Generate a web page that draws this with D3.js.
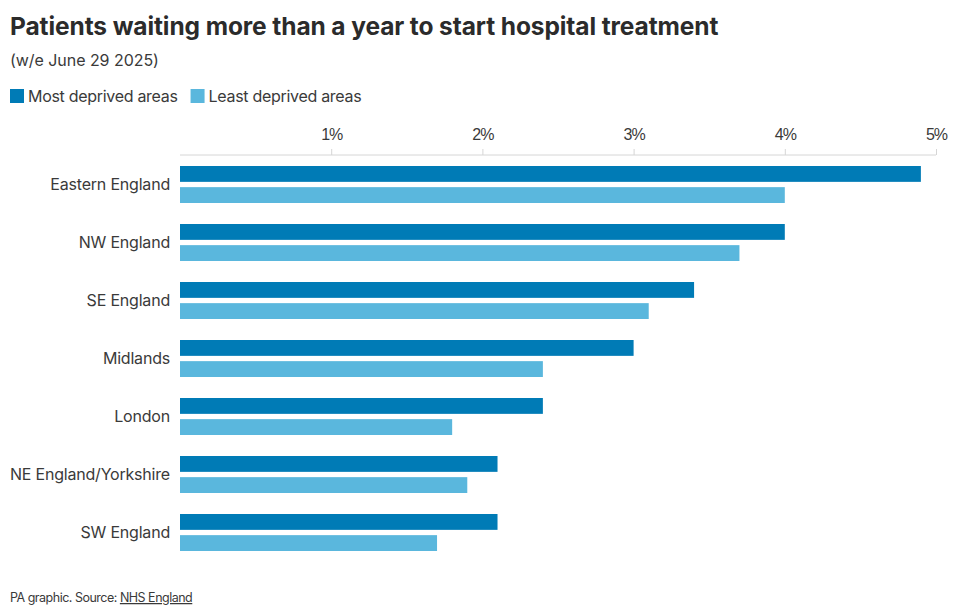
<!DOCTYPE html>
<html lang="en">
<head>
<meta charset="utf-8" />
<title>Patients waiting more than a year</title>
<script src="https://d3js.org/d3.v7.min.js"></script>
<style>
  body { margin: 0; background: #fff; }
  svg { display: block; font-family: Inter, "Liberation Sans", sans-serif; }
</style>
</head>
<body>
<svg width="960" height="611"></svg>
<script>
const regions = ["Eastern England", "NW England", "SE England", "Midlands", "London", "NE England/Yorkshire", "SW England"];
const mostDeprived = [4.9, 4.0, 3.4, 3.0, 2.4, 2.1, 2.1];
const leastDeprived = [4.0, 3.7, 3.1, 2.4, 1.8, 1.9, 1.7];
const seriesNames = ["Most deprived areas", "Least deprived areas"];
const seriesColors = ["#007bb6", "#5ab7dd"];
const tickValues = [1, 2, 3, 4, 5];

const width = 960, height = 611;
const svg = d3.select("svg");
const textColor = "#3a3a3a";

// titles
svg.append("text").attr("x", 10).attr("y", 35)
  .attr("font-size", 24.5).attr("font-weight", 700).attr("fill", "#2b2b2b")
  .attr("letter-spacing", -0.1)
  .text("Patients waiting more than a year to start hospital treatment");
svg.append("text").attr("x", 10).attr("y", 66)
  .attr("font-size", 16).attr("fill", textColor).attr("letter-spacing", -0.05)
  .text("(w/e June 29 2025)");

// legend
const legend = svg.append("g").attr("transform", "translate(10,89)");
let lx = 0;
seriesNames.forEach((name, i) => {
  legend.append("rect").attr("x", lx).attr("y", 0).attr("width", 14).attr("height", 14)
    .attr("fill", seriesColors[i]);
  const t = legend.append("text").attr("x", lx + 18).attr("y", 13)
    .attr("font-size", 16).attr("fill", textColor).attr("letter-spacing", -0.3)
    .text(name);
  lx += 18 + t.node().getComputedTextLength() + 13;
});

// scales
const x = d3.scaleLinear().domain([0, 5]).range([180, 936]);
const y = d3.scaleBand().domain(regions).range([160, 566]).paddingInner(0).paddingOuter(0);
const sub = d3.scaleBand().domain([0, 1]).range([6, 43]).paddingInner(0.25);

// axis
const axisY = 155;
const axis = svg.append("g").attr("transform", `translate(0,${axisY})`)
  .call(d3.axisTop(x).tickValues(tickValues).tickSize(6).tickFormat(d => d + "%"));
axis.select(".domain").attr("d", `M${x(0)},0H${x(5)}`).attr("stroke", "#d6d6d6");
axis.selectAll(".tick line").attr("stroke", "#d6d6d6");
axis.selectAll(".tick text").attr("font-size", 16).attr("fill", textColor)
  .attr("letter-spacing", -1).attr("dy", -6).attr("font-family", null);

// bars
const groups = svg.append("g").selectAll("g").data(regions).join("g")
  .attr("transform", d => `translate(0,${y(d)})`);

groups.selectAll("rect")
  .data((d, i) => [mostDeprived[i], leastDeprived[i]])
  .join("rect")
  .attr("x", x(0))
  .attr("y", (d, j) => sub(j))
  .attr("width", d => x(d) - x(0))
  .attr("height", sub.bandwidth())
  .attr("fill", (d, j) => seriesColors[j]);

groups.append("text")
  .attr("x", 170).attr("y", 24.5).attr("dy", "0.35em")
  .attr("text-anchor", "end").attr("font-size", 16).attr("fill", textColor)
  .attr("letter-spacing", -0.2)
  .text(d => d);

// footer
const foot = svg.append("text").attr("x", 10).attr("y", 602)
  .attr("font-size", 12.5).attr("fill", textColor).attr("letter-spacing", -0.5);
foot.append("tspan").text("PA graphic. Source: ");
foot.append("tspan").attr("text-decoration", "underline").text("NHS England");
</script>
</body>
</html>
